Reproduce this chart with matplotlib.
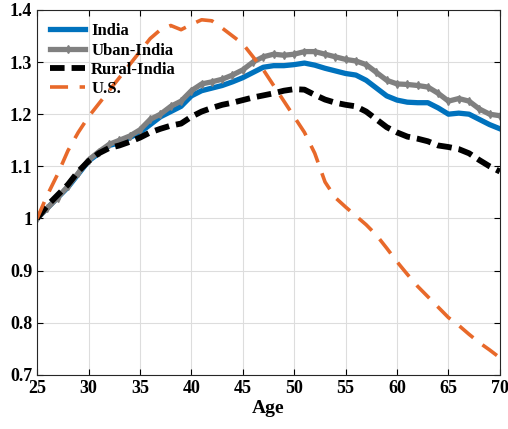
import matplotlib.pyplot as plt
import numpy as np

plt.rcParams['font.family'] = ['Liberation Serif', 'DejaVu Serif']
plt.rcParams['font.weight'] = 'bold'
plt.rcParams['axes.labelweight'] = 'bold'

age = np.arange(25, 71)

india = [1.0, 1.02, 1.04, 1.06, 1.085, 1.11, 1.125, 1.14, 1.145, 1.155,
         1.165, 1.18, 1.195, 1.205, 1.215, 1.235, 1.245, 1.25, 1.255, 1.262,
         1.27, 1.28, 1.29, 1.293, 1.293, 1.295, 1.298, 1.294, 1.288, 1.283,
         1.278, 1.275, 1.265, 1.25, 1.235, 1.227, 1.223, 1.222, 1.222, 1.212,
         1.2, 1.202, 1.2, 1.19, 1.18, 1.172]
urban = [1.0, 1.02, 1.04, 1.062, 1.087, 1.112, 1.128, 1.142, 1.15, 1.158,
         1.17, 1.19, 1.2, 1.215, 1.225, 1.245, 1.258, 1.262, 1.267, 1.275,
         1.285, 1.3, 1.31, 1.315, 1.313, 1.315, 1.32, 1.32, 1.315, 1.31,
         1.305, 1.302, 1.295, 1.28, 1.265, 1.258, 1.257, 1.255, 1.252, 1.24,
         1.225, 1.23, 1.225, 1.21, 1.2, 1.197]
rural = [1.0, 1.025, 1.045, 1.065, 1.09, 1.11, 1.125, 1.135, 1.14, 1.147,
         1.155, 1.165, 1.172, 1.178, 1.182, 1.195, 1.205, 1.212, 1.218, 1.222,
         1.227, 1.232, 1.236, 1.24, 1.245, 1.248, 1.247, 1.237, 1.228, 1.222,
         1.218, 1.215, 1.205, 1.19, 1.175, 1.165, 1.157, 1.153, 1.148, 1.14,
         1.137, 1.133, 1.125, 1.112, 1.1, 1.09]
us = [1.0, 1.045, 1.085, 1.13, 1.165, 1.195, 1.22, 1.245, 1.27, 1.295,
      1.32, 1.345, 1.362, 1.37, 1.362, 1.372, 1.381, 1.379, 1.365, 1.35,
      1.335, 1.31, 1.285, 1.255, 1.225, 1.195, 1.165, 1.125, 1.07, 1.04,
      1.022, 1.005, 0.988, 0.968, 0.943, 0.917, 0.893, 0.87, 0.85, 0.83,
      0.81, 0.795, 0.778, 0.762, 0.748, 0.733]

fig = plt.figure(figsize=(5.08, 4.29), dpi=100)
ax = fig.add_axes([0.073, 0.126, 0.911, 0.851])

ax.plot(age, india, color='#0072BD', lw=3.8, label='India')
ax.plot(age, urban, color='#808080', lw=3.8, marker='d', ms=4, label='Uban-India')
ax.plot(age, rural, color='black', lw=4.2, ls=(0, (2.5, 1.2)), label='Rural-India')
ax.plot(age, us, color='#E8692A', lw=2.6, ls=(0, (5, 3.2)), label='U.S.')

ax.set_xlim(25, 70)
ax.set_ylim(0.7, 1.4)
ax.set_xticks(range(25, 71, 5))
ax.set_yticks([0.7, 0.8, 0.9, 1.0, 1.1, 1.2, 1.3, 1.4])
ax.set_yticklabels(['0.7', '0.8', '0.9', '1', '1.1', '1.2', '1.3', '1.4'])
ax.tick_params(direction='in', top=True, right=True, labelsize=13, length=4, width=0.8)
ax.grid(True, color='#dddddd', lw=0.8)
ax.set_axisbelow(True)
for s in ax.spines.values():
    s.set_color('#262626')
    s.set_linewidth(0.8)
ax.set_xlabel('Age', fontsize=14, labelpad=2)

ax.legend(loc='upper left', frameon=False, fontsize=12, handlelength=2.1,
          borderaxespad=0.4, labelspacing=0.2, handletextpad=0.35)

fig.savefig('out.png', dpi=100)
